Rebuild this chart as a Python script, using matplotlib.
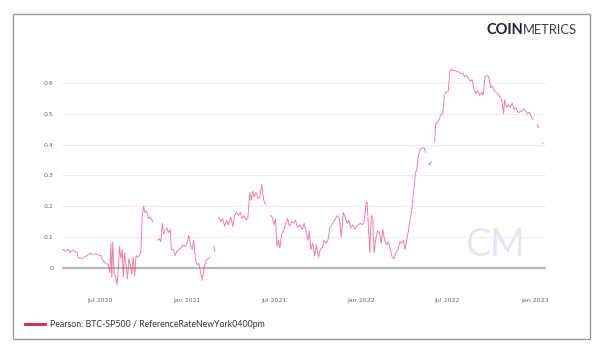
import numpy as np
import pandas as pd
import matplotlib
matplotlib.use("Agg")
import matplotlib.pyplot as plt
import matplotlib.dates as mdates
from matplotlib.patches import Rectangle
from matplotlib.lines import Line2D

nan = np.nan

# Pearson correlation BTC vs S&P500 (gaps = nan)
dates = [
    "2020-04-14", "2020-04-20", "2020-04-25", "2020-04-29", "2020-05-04", "2020-05-09", "2020-05-14",
    "2020-05-16", "2020-05-22", "2020-05-28", "2020-06-04", "2020-06-10", "2020-06-16", "2020-06-22",
    "2020-06-28", "2020-07-03", "2020-07-09", "2020-07-14", "2020-07-18", "2020-07-20", "2020-07-22",
    "2020-07-24", "2020-07-26", "2020-07-28", "2020-07-31", "2020-08-03", "2020-08-06", "2020-08-09",
    "2020-08-11", "2020-08-14", "2020-08-17", "2020-08-19", "2020-08-22", "2020-08-25", "2020-08-28",
    "2020-08-31", "2020-09-03", "2020-09-06", "2020-09-09", "2020-09-12", "2020-09-15", "2020-09-19",
    "2020-09-22", "2020-09-25", "2020-09-28", "2020-10-01", "2020-10-03", "2020-10-07", "2020-10-11",
    "2020-10-15", "2020-10-20", "2020-10-24", "2020-10-31", "2020-11-03", "2020-11-06", "2020-11-09",
    "2020-11-12", "2020-11-15", "2020-11-19", "2020-11-22", "2020-11-26", "2020-11-28", "2020-12-02",
    "2020-12-06", "2020-12-10", "2020-12-14", "2020-12-18", "2020-12-22", "2020-12-26", "2020-12-30",
    "2021-01-04", "2021-01-08", "2021-01-11", "2021-01-14", "2021-01-18", "2021-01-22", "2021-01-25",
    "2021-01-28", "2021-02-01", "2021-02-05", "2021-02-09", "2021-02-13", "2021-02-18", "2021-02-21",
    "2021-02-25", "2021-02-28", "2021-03-03", "2021-03-08", "2021-03-12", "2021-03-16", "2021-03-20",
    "2021-03-24", "2021-03-28", "2021-04-02", "2021-04-06", "2021-04-10", "2021-04-14", "2021-04-18",
    "2021-04-22", "2021-04-26", "2021-04-30", "2021-05-04", "2021-05-08", "2021-05-12", "2021-05-15",
    "2021-05-18", "2021-05-21", "2021-05-25", "2021-05-29", "2021-06-02", "2021-06-06", "2021-06-10",
    "2021-06-14", "2021-06-17", "2021-06-24", "2021-06-28", "2021-07-02", "2021-07-05", "2021-07-08",
    "2021-07-11", "2021-07-14", "2021-07-18", "2021-07-22", "2021-07-26", "2021-07-30", "2021-08-03",
    "2021-08-08", "2021-08-12", "2021-08-16", "2021-08-20", "2021-08-25", "2021-08-30", "2021-09-03",
    "2021-09-07", "2021-09-11", "2021-09-14", "2021-09-17", "2021-09-21", "2021-09-25", "2021-09-29",
    "2021-10-03", "2021-10-07", "2021-10-11", "2021-10-15", "2021-10-19", "2021-10-23", "2021-10-27",
    "2021-10-31", "2021-11-04", "2021-11-08", "2021-11-12", "2021-11-16", "2021-11-20", "2021-11-24",
    "2021-11-28", "2021-12-02", "2021-12-06", "2021-12-10", "2021-12-14", "2021-12-18", "2021-12-22",
    "2021-12-26", "2021-12-30", "2022-01-03", "2022-01-07", "2022-01-11", "2022-01-13", "2022-01-16",
    "2022-01-19", "2022-01-22", "2022-01-25", "2022-01-28", "2022-01-31", "2022-02-04", "2022-02-08",
    "2022-02-12", "2022-02-15", "2022-02-19", "2022-02-23", "2022-02-27", "2022-03-03", "2022-03-07",
    "2022-03-11", "2022-03-15", "2022-03-19", "2022-03-23", "2022-03-27", "2022-03-31", "2022-04-03",
    "2022-04-07", "2022-04-11", "2022-04-15", "2022-04-18", "2022-04-21", "2022-04-25", "2022-04-28",
    "2022-05-01", "2022-05-05", "2022-05-09", "2022-05-13", "2022-05-16", "2022-05-19", "2022-05-22",
    "2022-05-25", "2022-05-28", "2022-05-31", "2022-06-04", "2022-06-06", "2022-06-09", "2022-06-13",
    "2022-06-17", "2022-06-21", "2022-06-25", "2022-06-28", "2022-07-03", "2022-07-06", "2022-07-09",
    "2022-07-13", "2022-07-17", "2022-07-21", "2022-07-25", "2022-07-29", "2022-08-02", "2022-08-06",
    "2022-08-10", "2022-08-14", "2022-08-18", "2022-08-22", "2022-08-26", "2022-08-30", "2022-09-03",
    "2022-09-07", "2022-09-11", "2022-09-14", "2022-09-18", "2022-09-22", "2022-09-26", "2022-09-30",
    "2022-10-03", "2022-10-07", "2022-10-11", "2022-10-15", "2022-10-19", "2022-10-23", "2022-10-27",
    "2022-10-29", "2022-11-02", "2022-11-06", "2022-11-10", "2022-11-14", "2022-11-18", "2022-11-22",
    "2022-11-26", "2022-11-30", "2022-12-04", "2022-12-08", "2022-12-12", "2022-12-16", "2022-12-20",
    "2022-12-24", "2022-12-28", "2022-12-31", "2023-01-06", "2023-01-08", "2023-01-11", "2023-01-16",
    "2023-01-18",
]
pearson = [
    0.06, 0.055, 0.06, 0.05, 0.058, 0.055, 0.05,
    0.035, 0.03, 0.035, 0.04, 0.048, 0.045, 0.045,
    0.042, 0.04, 0.02, 0.015, 0.01, 0.0, -0.015,
    0.08, -0.03, 0.085, -0.02, -0.03, -0.055, 0.0,
    0.07, 0.03, 0.06, -0.03, 0.05, 0.01, -0.035,
    0.03, 0.01, -0.02, 0.035, -0.025, 0.04, 0.035,
    0.04, 0.05, 0.17, 0.2, 0.18, 0.185, 0.16,
    0.165, 0.15, nan, 0.09, 0.095, 0.085, 0.145,
    0.11, 0.12, 0.13, 0.115, 0.125, 0.06, 0.06,
    0.04, 0.055, 0.06, 0.065, 0.075, 0.07, 0.075,
    0.105, 0.07, 0.06, 0.09, 0.025, 0.01, 0.015,
    -0.01, -0.04, 0.0, 0.025, 0.03, 0.035, nan,
    0.07, 0.055, nan, 0.165, 0.15, 0.16, 0.135,
    0.155, 0.14, 0.165, 0.135, 0.17, 0.18, 0.17,
    0.18, 0.16, 0.17, 0.155, 0.165, 0.245, 0.22,
    0.25, 0.23, 0.245, 0.225, 0.23, 0.27, 0.22,
    0.205, nan, 0.17, 0.165, 0.14, 0.16, 0.07,
    0.09, 0.065, 0.11, 0.12, 0.145, 0.16, 0.135,
    0.15, 0.145, 0.155, 0.13, 0.14, 0.125, 0.145,
    0.12, 0.09, 0.12, 0.06, 0.08, 0.04, 0.075,
    0.035, 0.06, 0.065, 0.09, 0.08, 0.09, 0.13,
    0.14, 0.15, 0.16, 0.17, 0.16, 0.1, 0.18,
    0.165, 0.145, 0.155, 0.13, 0.14, 0.125, 0.135,
    0.14, 0.145, 0.14, 0.15, 0.21, 0.215, 0.13,
    0.05, 0.17, 0.16, 0.05, 0.09, 0.12, 0.115,
    0.08, 0.125, 0.09, 0.075, 0.085, 0.06, 0.035,
    0.03, 0.05, 0.06, 0.085, 0.08, 0.09, 0.06,
    0.095, 0.13, 0.17, 0.2, 0.25, 0.31, 0.32,
    0.365, 0.385, 0.39, 0.39, 0.375, nan, 0.34,
    0.335, 0.345, nan, 0.41, 0.465, 0.47, 0.48,
    0.495, 0.5, 0.56, 0.57, 0.575, 0.635, 0.645,
    0.64, 0.64, 0.637, 0.635, 0.63, 0.632, 0.62,
    0.625, 0.615, 0.605, 0.61, 0.58, 0.565, 0.575,
    0.56, 0.57, 0.56, 0.62, 0.625, 0.62, 0.585,
    0.59, 0.575, 0.57, 0.565, 0.555, 0.545, 0.5,
    0.545, 0.52, 0.53, 0.52, 0.535, 0.515, 0.52,
    0.505, 0.505, 0.51, 0.515, 0.51, 0.5, 0.505,
    0.49, 0.48, nan, 0.465, 0.455, nan, 0.405,
    0.405,
]
yticks = [0, 0.1, 0.2, 0.3, 0.4, 0.5, 0.6]
xticks = ["2020-07-01", "2021-01-01", "2021-07-01", "2022-01-01", "2022-07-01", "2023-01-01"]
legend_label = "Pearson: BTC-SP500 / ReferenceRateNewYork0400pm"

x = pd.to_datetime(dates)
y = np.array(pearson, dtype=float)

fig = plt.figure(figsize=(6, 3.55), dpi=100)
fig.patch.set_facecolor("white")

# outer frame
fig.patches.append(Rectangle((0.021, 0.045), 0.962, 0.915, transform=fig.transFigure,
                             fill=False, edgecolor="#9a9aa4", linewidth=1.0))

ax = fig.add_axes([0.103, 0.193, 0.807, 0.643])
ax.plot(x, y, color="#ee4a78", linewidth=0.7, alpha=0.7)
ax.axhline(0, color="#b8b8c0", linewidth=1.6, zorder=1)

ax.set_ylim(-0.06, 0.68)
ax.set_xlim(pd.Timestamp("2020-04-12"), pd.Timestamp("2023-01-24"))
ax.set_yticks(yticks)
ax.set_yticklabels([f"{v:g}" for v in yticks])
ax.set_xticks(pd.to_datetime(xticks))
ax.xaxis.set_major_formatter(mdates.DateFormatter("%b %Y"))
ax.grid(axis="y", color="#eeeeee", linewidth=0.8)
ax.set_axisbelow(True)
for s in ax.spines.values():
    s.set_visible(False)
ax.tick_params(axis="both", length=0, labelsize=4.5, labelcolor="#666666")
ax.tick_params(axis="x", pad=8)
ax.tick_params(axis="y", pad=6)

# watermark
ax.text(0.895, 0.18, "CM", transform=ax.transAxes, fontsize=27, color="#e4e7f0",
        ha="center", va="center", fontweight="normal", family="Lato", zorder=0)

# logo
fig.text(0.872, 0.915, "COIN", fontsize=10.5, fontweight="bold", color="#1e1f30",
         ha="right", va="center", family="Lato")
fig.text(0.872, 0.915, "METRICS", fontsize=9.3, fontweight="normal", color="#3c3d4c",
         ha="left", va="center", family="Lato")

# legend
fig.add_artist(Line2D([0.042, 0.075], [0.087, 0.087], transform=fig.transFigure,
                      color="#e3174f", linewidth=2))
fig.text(0.083, 0.087, legend_label, fontsize=6.3, color="#333333", va="center", family="Lato")

fig.savefig("out.png", dpi=100, facecolor="white")
